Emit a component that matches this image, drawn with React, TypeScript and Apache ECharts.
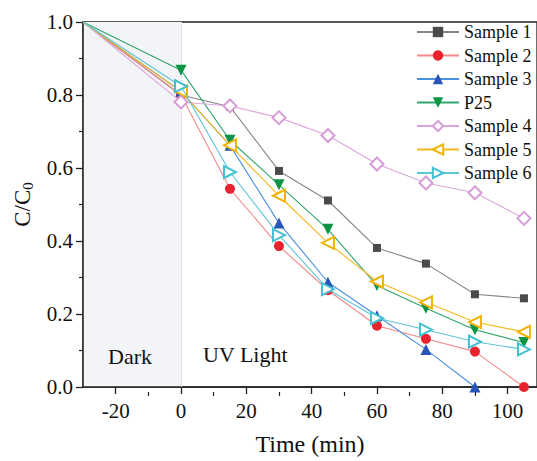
import React, { useEffect, useRef } from "react";
import * as echarts from "echarts";

// Sampling times (min); negative values are the dark adsorption stage
const times = [-30, 0, 15, 30, 45, 60, 75, 90, 105];

// Normalised concentration C/C0 for each photocatalyst
const sample1 = [1.0, 0.8, 0.768, 0.592, 0.511, 0.381, 0.338, 0.254, 0.243];
const sample2 = [1.0, 0.8, 0.543, 0.386, 0.265, 0.168, 0.132, 0.097, 0.0];
const sample3 = [1.0, 0.81, 0.662, 0.449, 0.287, 0.195, 0.103, 0.0];
const p25 = [1.0, 0.868, 0.676, 0.554, 0.432, 0.278, 0.216, 0.157, 0.122];
const sample4 = [1.0, 0.781, 0.77, 0.738, 0.689, 0.611, 0.559, 0.532, 0.462];
const sample5 = [1.0, 0.81, 0.662, 0.524, 0.395, 0.289, 0.232, 0.178, 0.151];
const sample6 = [1.0, 0.824, 0.589, 0.416, 0.268, 0.189, 0.157, 0.124, 0.103];

const xMajorTicks = [-20, 0, 20, 40, 60, 80, 100];
const xMinorTicks = [-10, 10, 30, 50, 70, 90];

const FONT = "Liberation Serif";

type SeriesDef = {
  name: string;
  values: number[];
  symbol: string;
  size: number;
  rotate: number;
  line: string;
  marker: string;
};

const seriesDefs: SeriesDef[] = [
  { name: "Sample 1", values: sample1, symbol: "rect", size: 8, rotate: 0, line: "#858585", marker: "#4a4a4a" },
  { name: "Sample 2", values: sample2, symbol: "circle", size: 10, rotate: 0, line: "#f28a8a", marker: "#e8232d" },
  { name: "Sample 3", values: sample3, symbol: "triangle", size: 11, rotate: 0, line: "#4a8fe0", marker: "#2a55b8" },
  { name: "P25", values: p25, symbol: "triangle", size: 11, rotate: 180, line: "#2fa56c", marker: "#0a9444" },
  { name: "Sample 4", values: sample4, symbol: "emptyDiamond", size: 13, rotate: 0, line: "#dba6db", marker: "#d79bd7" },
  { name: "Sample 5", values: sample5, symbol: "emptyTriangle", size: 12, rotate: 90, line: "#f2b91e", marker: "#f2b300" },
  { name: "Sample 6", values: sample6, symbol: "emptyTriangle", size: 12, rotate: -90, line: "#5cc5d6", marker: "#45bfd2" },
];

export default function App() {
  const ref = useRef<HTMLDivElement>(null);

  useEffect(() => {
    if (!ref.current) return;
    const chart = echarts.init(ref.current, undefined, { renderer: "svg" });

    const gridRect = { left: 83, top: 22, right: -3, bottom: 69 };
    const axisColor = "#222";

    const series: any[] = seriesDefs.map((d, i) => ({
      type: "line",
      name: d.name,
      xAxisIndex: 0,
      yAxisIndex: 0,
      // the shared starting point at the corner is drawn without a marker
      data: d.values.map((v, j) =>
        j === 0 ? { value: [times[j], v], symbol: "none" } : [times[j], v]
      ),
      symbol: d.symbol,
      symbolSize: d.size,
      symbolRotate: d.rotate,
      showAllSymbol: true,
      clip: true,
      z: 3 + i,
      lineStyle: { color: d.line, width: 1.1 },
      itemStyle: { color: d.marker, borderColor: d.marker, borderWidth: d.symbol.startsWith("empty") ? 1.2 : 0 },
      emphasis: { disabled: true },
    }));

    // Dark-stage shading and the dotted boundary at t = 0
    series[0].markArea = {
      silent: true,
      itemStyle: { color: "#f2f4f8" },
      data: [[{ xAxis: -30 }, { xAxis: 0 }]],
      z: 0,
    };
    series[0].markLine = {
      silent: true,
      symbol: "none",
      label: { show: false },
      lineStyle: { color: "#c8ccd2", type: "dotted", width: 1 },
      data: [{ xAxis: 0 }],
    };

    chart.setOption({
      animation: false,
      backgroundColor: "#fff",
      grid: [
        { ...gridRect, show: true, borderColor: axisColor, borderWidth: 1.3, backgroundColor: "transparent" },
        { ...gridRect, show: false },
      ],
      legend: {
        orient: "vertical",
        left: 411,
        top: 18,
        itemWidth: 42,
        itemHeight: 13,
        itemGap: 5.5,
        textStyle: { fontFamily: FONT, fontSize: 18, color: "#111", lineHeight: 18, overflow: "none" },
        data: seriesDefs.map((d) => d.name),
      },
      xAxis: [
        {
          type: "value",
          gridIndex: 0,
          min: -30,
          max: 109,
          name: "Time (min)",
          nameLocation: "middle",
          nameGap: 45,
          nameTextStyle: { fontFamily: FONT, fontSize: 24, color: "#111" },
          axisLine: { show: true, onZero: false, lineStyle: { color: axisColor, width: 1.5 } },
          axisTick: { show: true, customValues: xMajorTicks, length: 7, lineStyle: { color: axisColor, width: 1.3 } },
          axisLabel: { customValues: xMajorTicks, margin: 13, fontFamily: FONT, fontSize: 21, color: "#111" },
          splitLine: { show: false },
        },
        {
          type: "value",
          gridIndex: 1,
          min: -30,
          max: 109,
          axisLine: { show: false, onZero: false },
          axisTick: { show: true, customValues: xMinorTicks, length: 4, lineStyle: { color: axisColor, width: 1.2 } },
          axisLabel: { show: false },
          splitLine: { show: false },
        },
      ],
      yAxis: [
        {
          type: "value",
          gridIndex: 0,
          min: 0,
          max: 1,
          interval: 0.2,
          name: "{a|C/C}{b|0}",
          nameLocation: "middle",
          nameGap: 48,
          nameTextStyle: {
            rich: {
              a: { fontFamily: FONT, fontSize: 23, color: "#111" },
              b: { fontFamily: FONT, fontSize: 15, color: "#111", padding: [10, 0, 0, 0] },
            },
          },
          axisLine: { show: true, onZero: false, lineStyle: { color: axisColor, width: 1.5 } },
          axisTick: { show: true, length: 7, lineStyle: { color: axisColor, width: 1.3 } },
          minorTick: { show: true, splitNumber: 2, length: 4, lineStyle: { color: axisColor, width: 1.2 } },
          axisLabel: {
            margin: 10,
            fontFamily: FONT,
            fontSize: 21,
            color: "#111",
            formatter: (v: number) => v.toFixed(1),
          },
          splitLine: { show: false },
          minorSplitLine: { show: false },
        },
        {
          type: "value",
          gridIndex: 1,
          min: 0,
          max: 1,
          show: false,
        },
      ],
      graphic: [
        {
          type: "text",
          left: 108,
          top: 345,
          z: 50,
          style: { text: "Dark", fontFamily: FONT, fontSize: 22, fill: "#111" },
        },
        {
          type: "text",
          left: 203,
          top: 343,
          z: 50,
          style: { text: "UV Light", fontFamily: FONT, fontSize: 22, fill: "#111" },
        },
      ],
      series,
    });

    return () => chart.dispose();
  }, []);

  return (
    <div
      ref={ref}
      style={{ position: "fixed", left: 0, top: 0, width: 537, height: 461 }}
    />
  );
}
